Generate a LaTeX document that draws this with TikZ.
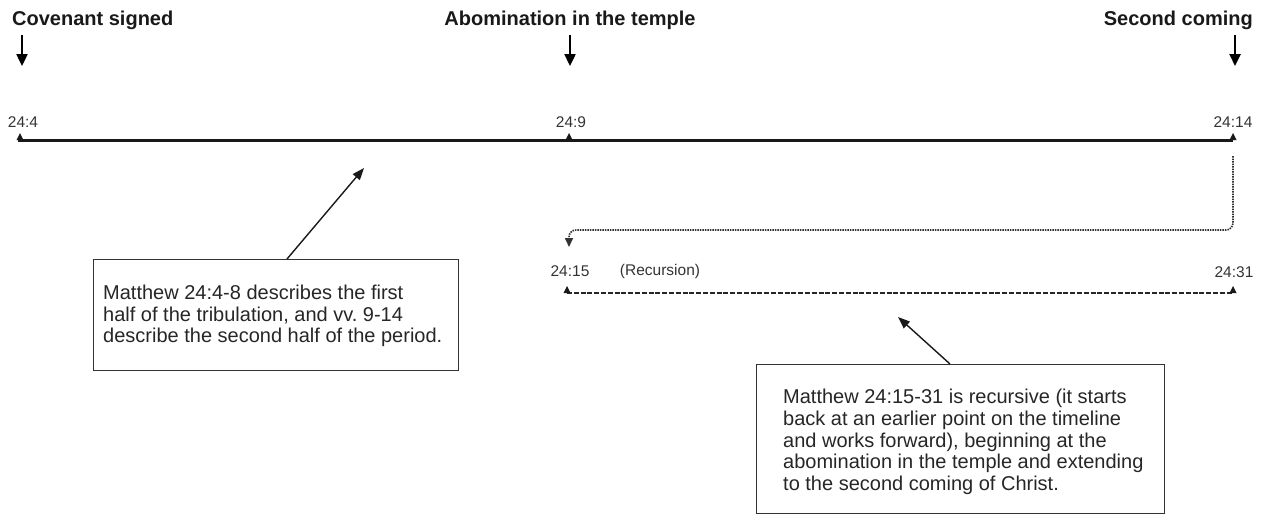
\documentclass[tikz,border=0pt]{standalone}
\usepackage{fontspec}
\setmainfont{Liberation Sans}
\usetikzlibrary{arrows.meta}
\frenchspacing
\begin{document}
\begin{tikzpicture}[x=1pt,y=-1pt,
  head/.style={font=\fontsize{20}{22}\selectfont\bfseries, inner sep=0pt, text=black!90},
  lbl/.style={font=\fontsize{15.5}{17}\selectfont, inner sep=0pt, text=black!80},
  notebox/.style={draw=black!80, line width=1.3pt, anchor=north west, inner sep=0pt},
  notetext/.style={font=\fontsize{20}{21.8}\selectfont, align=left, anchor=west,
    inner sep=0pt, text=black!85},
  darr/.style={line width=2.4pt, -{Triangle[width=11pt,length=12pt]}},
  parr/.style={line width=1.4pt, black!90, -{Triangle[width=9pt,length=12pt]}},
  tline/.style={line width=3pt, black!90},
  dotline/.style={line width=1.6pt, black!80, dash pattern=on 1.5pt off 1pt},
  dashline/.style={line width=2pt, black!85, dash pattern=on 5pt off 1.8pt},
  tri/.pic={\fill[black!90] (-3.5,0) -- (0,-7) -- (3.5,0) -- cycle;}
]
\useasboundingbox (0,0) rectangle (1261,514);

% headings
\node[head, anchor=west] (h1) at (12,20) {Covenant signed};
\node[head] (h2) at (570,20) {Abomination in the temple};
\node[head, anchor=east] (h3) at (1253,20) {Second coming};
\coordinate (h1a) at (22,35);  \coordinate (h1b) at (22,66);
\coordinate (h2a) at (570,35); \coordinate (h2b) at (570,66);
\coordinate (h3a) at (1235,35);\coordinate (h3b) at (1235,66);
\draw[darr] (h1a) -- (h1b);
\draw[darr] (h2a) -- (h2b);
\draw[darr] (h3a) -- (h3b);

% main timeline
\coordinate (p4) at (20,140);
\coordinate (p9) at (569,140);
\coordinate (p14) at (1233,140);
\draw[tline] (18,140) -- (p14);
\pic at (p4) {tri};
\pic at (p9) {tri};
\pic at (p14) {tri};
\node[lbl] (l4) at (23,122) {24:4};
\node[lbl] (l9) at (571,122) {24:9};
\node[lbl] (l14) at (1233,122) {24:14};

% recursion connector
\coordinate (r1) at (1233,156);
\coordinate (r2) at (569,247);
\draw[dotline, rounded corners=7pt, -{Triangle[width=8pt,length=9pt]}] (r1) |- (569,230) -- (r2);

% second timeline
\coordinate (p15) at (567,293);
\coordinate (p31) at (1233,293);
\draw[dashline] (p15) -- (p31);
\pic at (p15) {tri};
\pic at (p31) {tri};
\node[lbl] (l15) at (570,271) {24:15};
\node[lbl] (lrec) at (660,271) {(Recursion)};
\node[lbl] (l31) at (1234,272) {24:31};

% note 1
\node[notebox, minimum width=365pt, minimum height=111pt] (n1) at (93,259) {};
\node[notetext] (n1t) at (103,316)
  {Matthew 24:4-8 describes the first\\half of the tribulation, and vv. 9-14\\describe the second half of the period.};
\coordinate (t1) at (364,168);
\coordinate (s1) at (287,259);
\draw[parr] (s1) -- (t1);

% note 2
\node[notebox, minimum width=408pt, minimum height=149pt] (n2) at (756,364) {};
\node[notetext] (n2t) at (783,442)
  {Matthew 24:15-31 is recursive (it starts\\back at an earlier point on the timeline\\and works forward), beginning at the\\abomination in the temple and extending\\to the second coming of Christ.};
\coordinate (t2) at (898,317);
\coordinate (s2) at (950,364);
\draw[parr] (s2) -- (t2);
\end{tikzpicture}
\end{document}
